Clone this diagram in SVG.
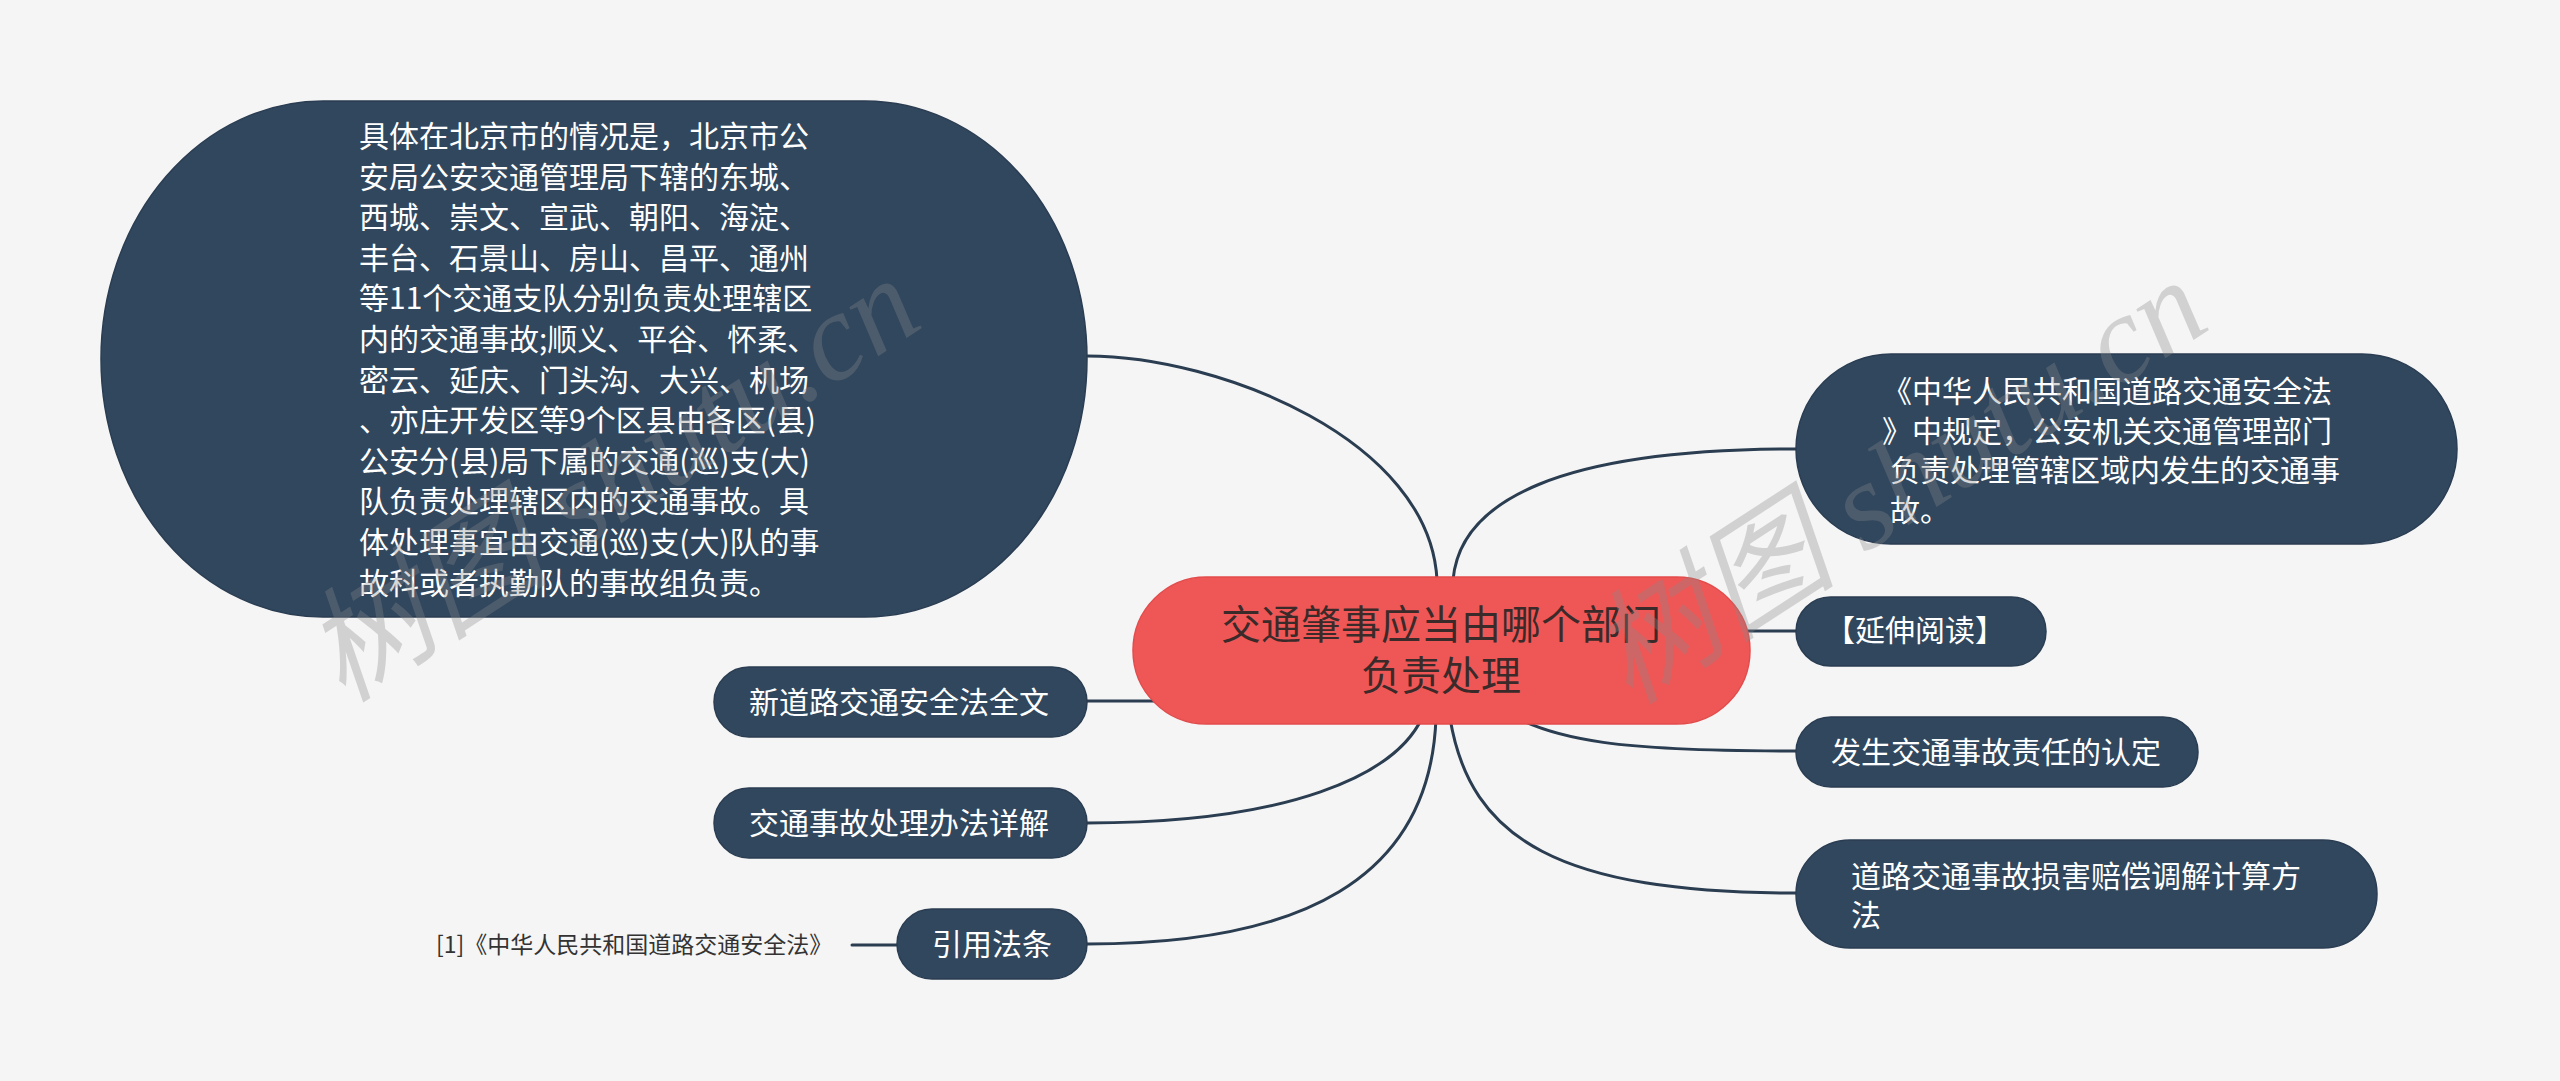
<svg xmlns="http://www.w3.org/2000/svg" width="2560" height="1081" viewBox="0 0 2560 1081">
<style>
.bg{fill:#f5f5f5}
.node{fill:#30475e;stroke:#2a3d52;stroke-width:1.5}
.root{fill:#ef5757;stroke:#e34c4c;stroke-width:1.5}
.t{font-family:"Noto Sans CJK SC","Noto Sans",sans-serif;font-size:30px;fill:#ffffff}
.rt{font-family:"Noto Sans CJK SC","Noto Sans",sans-serif;font-size:40px;fill:#3b2a2a}
.note{font-family:"Noto Sans CJK SC","Noto Sans",sans-serif;font-size:23px;fill:#333333}
.edge{fill:none;stroke:#2b3d51;stroke-width:3;stroke-linecap:round}
.wm{font-family:"Liberation Serif","Noto Sans CJK SC",serif;font-style:italic;font-size:124px;fill:#8a8a8a;fill-opacity:0.33}
</style>
<rect class="bg" x="0" y="0" width="2560" height="1081"/>
<g id="connectors">
<path class="edge" d="M1437,580 C1430,440 1220,356 1087,356"/>
<path class="edge" d="M1453,580 C1460,500 1560,449 1796,449"/>
<path class="edge" d="M1740,631 L1796,631"/>
<path class="edge" d="M1490,700 C1540,745 1640,751 1796,751"/>
<path class="edge" d="M1450,718 C1470,840 1560,893 1796,893"/>
<path class="edge" d="M1087,701 L1160,701"/>
<path class="edge" d="M1422,718 C1395,775 1290,823 1087,823"/>
<path class="edge" d="M1436,718 C1430,880 1300,944 1087,944"/>
<path class="edge" d="M852,945 L897,945"/>
</g>
<g id="root">
<rect class="root" x="1133" y="577" width="617" height="147" rx="73.5"/>
<text class="rt" x="1441" y="639" text-anchor="middle">交通肇事应当由哪个部门</text>
<text class="rt" x="1441" y="690" text-anchor="middle">负责处理</text>
</g>
<g id="node-beijing">
<rect class="node" x="101" y="101" width="986" height="516" rx="222" ry="258"/>
<text class="t" x="359" y="147">具体在北京市的情况是，北京市公</text>
<text class="t" x="359" y="187.6">安局公安交通管理局下辖的东城、</text>
<text class="t" x="359" y="228.2">西城、崇文、宣武、朝阳、海淀、</text>
<text class="t" x="359" y="268.8">丰台、石景山、房山、昌平、通州</text>
<text class="t" x="359" y="309.4">等11个交通支队分别负责处理辖区</text>
<text class="t" x="359" y="350">内的交通事故;顺义、平谷、怀柔、</text>
<text class="t" x="359" y="390.6">密云、延庆、门头沟、大兴、机场</text>
<text class="t" x="359" y="431.2">、亦庄开发区等9个区县由各区(县)</text>
<text class="t" x="359" y="471.8">公安分(县)局下属的交通(巡)支(大)</text>
<text class="t" x="359" y="512.4">队负责处理辖区内的交通事故。具</text>
<text class="t" x="359" y="553">体处理事宜由交通(巡)支(大)队的事</text>
<text class="t" x="359" y="593.6">故科或者执勤队的事故组负责。</text>
</g>
<g id="node-law">
<rect class="node" x="1796" y="354" width="661" height="190" rx="95"/>
<text class="t" x="1882" y="402">《中华人民共和国道路交通安全法</text>
<text class="t" x="1882" y="441.5">》中规定，公安机关交通管理部门</text>
<text class="t" x="1890" y="481">负责处理管辖区域内发生的交通事</text>
<text class="t" x="1890" y="520.5">故。</text>
</g>
<g id="node-extend">
<rect class="node" x="1796" y="597" width="250" height="69" rx="34.5"/>
<text class="t" x="1825" y="641">【延伸阅读】</text>
</g>
<g id="node-liability">
<rect class="node" x="1796" y="717" width="402" height="70" rx="35"/>
<text class="t" x="1831" y="763">发生交通事故责任的认定</text>
</g>
<g id="node-compensation">
<rect class="node" x="1796" y="840" width="581" height="108" rx="54"/>
<text class="t" x="1851" y="887">道路交通事故损害赔偿调解计算方</text>
<text class="t" x="1851" y="926">法</text>
</g>
<g id="node-fulltext">
<rect class="node" x="714" y="667" width="373" height="70" rx="35"/>
<text class="t" x="749" y="713">新道路交通安全法全文</text>
</g>
<g id="node-method">
<rect class="node" x="714" y="788" width="373" height="70" rx="35"/>
<text class="t" x="749" y="834">交通事故处理办法详解</text>
</g>
<g id="node-cite">
<rect class="node" x="897" y="909" width="190" height="70" rx="35"/>
<text class="t" x="932" y="955">引用法条</text>
</g>
<g id="node-cite-ref">
<text class="note" x="436" y="953">[1]《中华人民共和国道路交通安全法》</text>
</g>
<g id="watermark">
<text class="wm" transform="translate(343,704) rotate(-33)">树图 shutu.cn</text>
<text class="wm" transform="translate(1630,706) rotate(-33)">树图 shutu.cn</text>
</g>
</svg>
